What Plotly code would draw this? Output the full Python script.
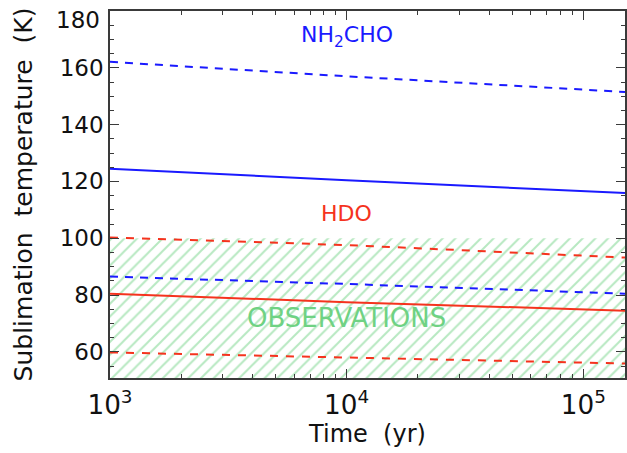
import numpy as np
import plotly.graph_objects as go

# ---- data ----
time_yr = [1e3, 1e4, 1.5e5]

nh2cho_upper = [162.1, 157.0, 151.5]
nh2cho_mid = [124.5, 120.4, 115.9]
nh2cho_lower = [86.5, 83.9, 80.5]

hdo_upper = [100.3, 97.6, 93.2]
hdo_mid = [80.5, 77.5, 74.5]
hdo_lower = [59.8, 57.9, 55.9]

obs_time = [1e3, 1.5e5]
obs_low = 50.0
obs_high = 100.0

x_range_log = [3, np.log10(1.5e5)]
y_range = [50.8, 180]
y_ticks = [60, 80, 100, 120, 140, 160, 180]
y_ticktext = ["60", "80", "100", "120", "140", "160", ""]  # 180 drawn below as an annotation
top_label = "180"

BLUE = "#1a1aff"
RED = "#f5331e"
GREEN = "#6fd283"
AXC = "#3a3a3a"
FONT = "DejaVu Sans"

fig = go.Figure()

# observations hatched band
fig.add_trace(go.Scatter(
    x=[obs_time[0], obs_time[1], obs_time[1], obs_time[0], obs_time[0]],
    y=[obs_low, obs_low, obs_high, obs_high, obs_low],
    mode="lines", line=dict(width=0), fill="toself",
    fillcolor="rgba(0,0,0,0)",
    fillpattern=dict(shape="/", fgcolor=GREEN, bgcolor="white", size=9, solidity=0.22),
    hoverinfo="skip", showlegend=False,
))

def add_line(y, color, dash):
    fig.add_trace(go.Scatter(
        x=time_yr, y=y, mode="lines",
        line=dict(color=color, width=2, dash=dash),
        showlegend=False,
    ))

add_line(nh2cho_upper, BLUE, "8px,7px")
add_line(nh2cho_mid, BLUE, "solid")
add_line(nh2cho_lower, BLUE, "8px,7px")
add_line(hdo_upper, RED, "8px,8px")
add_line(hdo_mid, RED, "solid")
add_line(hdo_lower, RED, "8px,8px")

fig.add_annotation(x=4.0, y=171, xref="x", yref="y", text="NH<sub>2</sub>CHO",
                   showarrow=False, font=dict(family=FONT, size=22, color=BLUE))
fig.add_annotation(x=4.0, y=108.6, xref="x", yref="y", text="HDO",
                   showarrow=False, font=dict(family=FONT, size=22, color=RED))
fig.add_annotation(x=4.0, y=72, xref="x", yref="y", text="OBSERVATIONS",
                   showarrow=False, font=dict(family=FONT, size=26, color=GREEN))
# top y tick label (kept inside the figure, slightly below the top edge as in the reference)
fig.add_annotation(x=0, xref="paper", y=180, yref="y", text=top_label,
                   xanchor="right", yanchor="middle", xshift=-8, yshift=-9,
                   showarrow=False, font=dict(family=FONT, size=23, color="#111"))

fig.update_xaxes(
    type="log", range=x_range_log, dtick=1, exponentformat="power",
    showgrid=False, zeroline=False,
    showline=True, linecolor=AXC, linewidth=1.5, mirror="allticks",
    ticks="inside", ticklen=9, tickwidth=1.3, tickcolor=AXC,
    minor=dict(dtick="D1", ticks="inside", ticklen=4, tickwidth=1.2, tickcolor=AXC, showgrid=False),
    tickfont=dict(family=FONT, size=21, color="#111"),
    ticklabelstandoff=4,
    title=dict(text="Time\u00a0\u00a0(yr)", font=dict(family=FONT, size=24, color="#111"), standoff=6),
)
fig.update_yaxes(
    range=y_range, tickvals=y_ticks, ticktext=y_ticktext,
    showgrid=False, zeroline=False,
    showline=True, linecolor=AXC, linewidth=1.5, mirror="allticks",
    ticks="inside", ticklen=9, tickwidth=1.3, tickcolor=AXC,
    minor=dict(dtick=5, ticks="inside", ticklen=4, tickwidth=1.2, tickcolor=AXC, showgrid=False),
    tickfont=dict(family=FONT, size=23, color="#111"),
    title=dict(text="Sublimation\u00a0\u00a0temperature\u00a0\u00a0(K)",
               font=dict(family=FONT, size=25, color="#111"), standoff=20),
)

fig.update_layout(
    width=627, height=453,
    margin=dict(l=110, r=0, t=11, b=75),
    paper_bgcolor="white", plot_bgcolor="white",
    showlegend=False,
)

fig.write_html("out.html")
